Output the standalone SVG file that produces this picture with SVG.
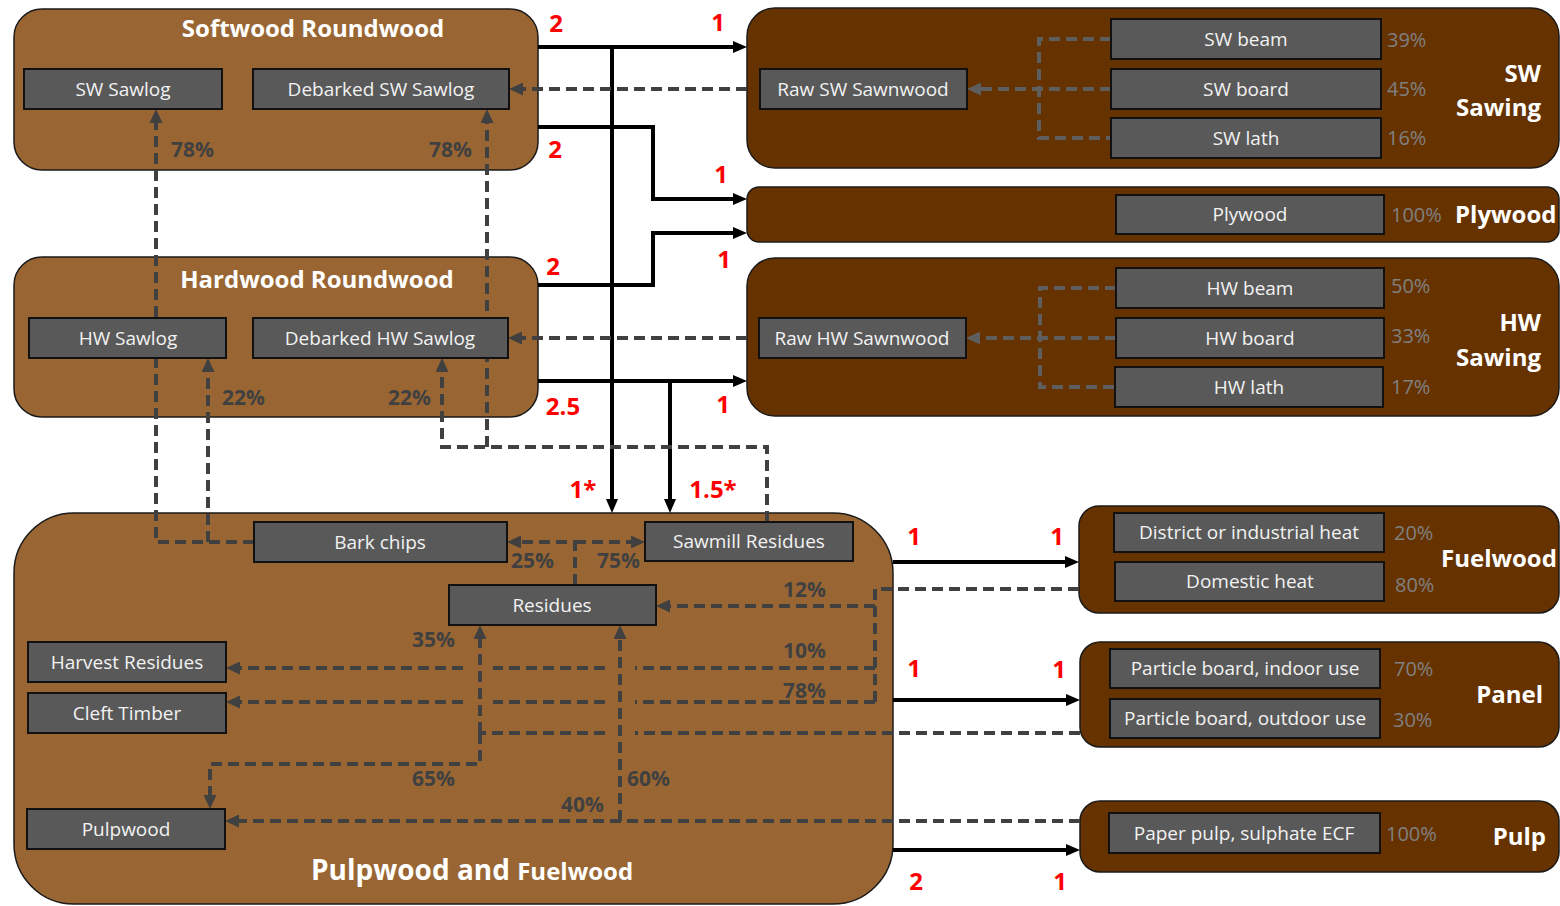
<svg xmlns="http://www.w3.org/2000/svg" width="1560" height="906" viewBox="0 0 1560 906">
<style>
.cl{fill:#996633;stroke:#1a1a1a;stroke-width:1.5}
.cd{fill:#663300;stroke:#1a1a1a;stroke-width:1.5}
.bx{fill:#595959;stroke:#111;stroke-width:2}
text{font-family:"Open Sans","Liberation Sans",sans-serif}
.bt{font-size:19px;fill:#f2f2f2;text-anchor:middle}
.tt{font-size:24px;font-weight:bold;fill:#fff;text-anchor:middle}
.hd{font-size:24px;font-weight:bold;fill:#fff}
.rp{font-size:20px;fill:#808080}
.pc{font-size:21px;font-weight:bold;fill:#404040}
.rd{font-size:24px;font-weight:bold;fill:#ff0000;text-anchor:middle}
.sl{fill:none;stroke:#000;stroke-width:4}
.dl{fill:none;stroke:#404040;stroke-width:4;stroke-dasharray:11 6}
.dg{fill:none;stroke:#5e5e5e;stroke-width:4;stroke-dasharray:11 6}
</style>
<defs>
<marker id="ab" viewBox="0 0 14 12" refX="4" refY="6" markerWidth="14" markerHeight="12" markerUnits="userSpaceOnUse" orient="auto"><path d="M0,0 L14,6 L0,12 z" fill="#000"/></marker>
<marker id="ad" viewBox="0 0 14 13" refX="4" refY="6.5" markerWidth="14" markerHeight="13" markerUnits="userSpaceOnUse" orient="auto"><path d="M0,0 L14,6.5 L0,13 z" fill="#404040"/></marker>
<marker id="ag" viewBox="0 0 14 13" refX="4" refY="6.5" markerWidth="14" markerHeight="13" markerUnits="userSpaceOnUse" orient="auto"><path d="M0,0 L14,6.5 L0,13 z" fill="#5e5e5e"/></marker>
</defs>
<rect width="1560" height="906" fill="#fff"/>

<!-- containers -->
<g id="softwood-roundwood">
<rect class="cl" x="14" y="9" width="524" height="161" rx="28"/>
<text class="tt" x="313" y="37">Softwood Roundwood</text>
</g>
<g id="hardwood-roundwood">
<rect class="cl" x="14" y="257" width="524" height="160" rx="28"/>
<text class="tt" x="317" y="288">Hardwood Roundwood</text>
</g>
<g id="pulpwood-fuelwood">
<rect class="cl" x="14" y="513" width="879" height="391" rx="60"/>
<text x="311" y="880" style="font-size:28px;font-weight:bold;fill:#fff">Pulpwood and <tspan style="font-size:24px">Fuelwood</tspan></text>
</g>
<g id="sw-sawing">
<rect class="cd" x="747" y="8" width="812" height="160" rx="28"/>
<text class="hd" x="1541" y="82" text-anchor="end">SW</text>
<text class="hd" x="1541" y="116" text-anchor="end">Sawing</text>
<text class="rp" x="1387" y="47">39%</text>
<text class="rp" x="1387" y="96">45%</text>
<text class="rp" x="1387" y="145">16%</text>
</g>
<g id="plywood">
<rect class="cd" x="747" y="187" width="812" height="55" rx="12"/>
<text class="hd" x="1455" y="223">Plywood</text>
<text class="rp" x="1391" y="222">100%</text>
</g>
<g id="hw-sawing">
<rect class="cd" x="747" y="258" width="812" height="158" rx="28"/>
<text class="hd" x="1541" y="331" text-anchor="end">HW</text>
<text class="hd" x="1541" y="366" text-anchor="end">Sawing</text>
<text class="rp" x="1391" y="293">50%</text>
<text class="rp" x="1391" y="343">33%</text>
<text class="rp" x="1391" y="394">17%</text>
</g>
<g id="fuelwood">
<rect class="cd" x="1079" y="506" width="480" height="107" rx="20"/>
<text class="hd" x="1441" y="567">Fuelwood</text>
<text class="rp" x="1394" y="540">20%</text>
<text class="rp" x="1395" y="592">80%</text>
</g>
<g id="panel">
<rect class="cd" x="1080" y="642" width="479" height="105" rx="20"/>
<text class="hd" x="1543" y="703" text-anchor="end">Panel</text>
<text class="rp" x="1394" y="676">70%</text>
<text class="rp" x="1393" y="727">30%</text>
</g>
<g id="pulp">
<rect class="cd" x="1080" y="801" width="479" height="71" rx="20"/>
<text class="hd" x="1546" y="845" text-anchor="end">Pulp</text>
<text class="rp" x="1386" y="841">100%</text>
</g>

<!-- connectors -->
<g id="connectors">
<path class="sl" d="M538,47 H737" marker-end="url(#ab)"/>
<path class="sl" d="M538,127 H653 V199 H737" marker-end="url(#ab)"/>
<path class="sl" d="M538,285 H653 V233 H737" marker-end="url(#ab)"/>
<path class="sl" d="M538,381 H737" marker-end="url(#ab)"/>
<path class="sl" d="M612,47 V503" marker-end="url(#ab)"/>
<path class="sl" d="M670,381 V503" marker-end="url(#ab)"/>
<path class="sl" d="M893,562 H1069" marker-end="url(#ab)"/>
<path class="sl" d="M893,700 H1070" marker-end="url(#ab)"/>
<path class="sl" d="M893,850 H1070" marker-end="url(#ab)"/>

<path class="dl" d="M747,89 H519" marker-end="url(#ad)"/>
<path class="dl" d="M747,338 H518" marker-end="url(#ad)"/>
<path class="dl" d="M254,542 H156 V119" marker-end="url(#ad)"/>
<path class="dl" d="M208,542 V368" marker-end="url(#ad)"/>
<path class="dl" d="M767,522 V447 H442 V368" marker-end="url(#ad)"/>
<path class="dl" d="M487,447 V119" marker-end="url(#ad)"/>
<path class="dl" d="M575,585 V542 H517" marker-end="url(#ad)"/>
<path class="dl" d="M575,542 H635" marker-end="url(#ad)"/>
<path class="dl" d="M1079,589 H875 V702"/>
<path class="dl" d="M875,606 H666" marker-end="url(#ad)"/>
<path class="dl" d="M875,668 H635 M605,668 H493"/>
<path class="dl" d="M463,668 H236" marker-end="url(#ad)"/>
<path class="dl" d="M875,702 H635 M605,702 H493"/>
<path class="dl" d="M463,702 H236" marker-end="url(#ad)"/>
<path class="dl" d="M1080,733 H635 M605,733 H480"/>
<path class="dl" d="M480,733 V635" marker-end="url(#ad)"/>
<path class="dl" d="M480,733 V764 H210 V799" marker-end="url(#ad)"/>
<path class="dl" d="M1080,821 H235" marker-end="url(#ad)"/>
<path class="dl" d="M620,821 V635" marker-end="url(#ad)"/>

<path class="dg" d="M1111,39 H1039 V138 H1111"/>
<path class="dg" d="M1111,89 H977" marker-end="url(#ag)"/>
<path class="dg" d="M1116,288 H1040 V387 H1115"/>
<path class="dg" d="M1116,338 H976" marker-end="url(#ag)"/>

<text class="rd" x="556" y="32">2</text>
<text class="rd" x="718" y="31">1</text>
<text class="rd" x="555" y="158">2</text>
<text class="rd" x="721" y="183">1</text>
<text class="rd" x="553" y="275">2</text>
<text class="rd" x="724" y="268">1</text>
<text class="rd" x="563" y="415">2.5</text>
<text class="rd" x="723" y="413">1</text>
<text class="rd" x="583" y="498">1*</text>
<text class="rd" x="713" y="498">1.5*</text>
<text class="rd" x="914" y="545">1</text>
<text class="rd" x="1057" y="545">1</text>
<text class="rd" x="914" y="677">1</text>
<text class="rd" x="1059" y="678">1</text>
<text class="rd" x="916" y="890">2</text>
<text class="rd" x="1060" y="890">1</text>

<text class="pc" x="171" y="157">78%</text>
<text class="pc" x="429" y="157">78%</text>
<text class="pc" x="222" y="405">22%</text>
<text class="pc" x="388" y="405">22%</text>
<text class="pc" x="511" y="568">25%</text>
<text class="pc" x="597" y="568">75%</text>
<text class="pc" x="783" y="597">12%</text>
<text class="pc" x="783" y="658">10%</text>
<text class="pc" x="783" y="698">78%</text>
<text class="pc" x="412" y="647">35%</text>
<text class="pc" x="412" y="786">65%</text>
<text class="pc" x="627" y="786">60%</text>
<text class="pc" x="561" y="812">40%</text>
</g>

<!-- inner nodes -->
<g id="sw-sawlog"><rect class="bx" x="24" y="69" width="198" height="40"/><text class="bt" x="123" y="96">SW Sawlog</text></g>
<g id="debarked-sw-sawlog"><rect class="bx" x="253" y="69" width="256" height="40"/><text class="bt" x="381" y="96">Debarked SW Sawlog</text></g>
<g id="hw-sawlog"><rect class="bx" x="29" y="318" width="197" height="40"/><text class="bt" x="128" y="345">HW Sawlog</text></g>
<g id="debarked-hw-sawlog"><rect class="bx" x="253" y="318" width="255" height="40"/><text class="bt" x="380" y="345">Debarked HW Sawlog</text></g>
<g id="raw-sw-sawnwood"><rect class="bx" x="760" y="69" width="207" height="40"/><text class="bt" x="863" y="96">Raw SW Sawnwood</text></g>
<g id="sw-beam"><rect class="bx" x="1111" y="19" width="270" height="40"/><text class="bt" x="1246" y="46">SW beam</text></g>
<g id="sw-board"><rect class="bx" x="1111" y="69" width="270" height="40"/><text class="bt" x="1246" y="96">SW board</text></g>
<g id="sw-lath"><rect class="bx" x="1111" y="118" width="270" height="40"/><text class="bt" x="1246" y="145">SW lath</text></g>
<g id="plywood-product"><rect class="bx" x="1116" y="195" width="268" height="39"/><text class="bt" x="1250" y="221">Plywood</text></g>
<g id="raw-hw-sawnwood"><rect class="bx" x="759" y="318" width="207" height="40"/><text class="bt" x="862" y="345">Raw HW Sawnwood</text></g>
<g id="hw-beam"><rect class="bx" x="1116" y="268" width="268" height="40"/><text class="bt" x="1250" y="295">HW beam</text></g>
<g id="hw-board"><rect class="bx" x="1116" y="318" width="268" height="40"/><text class="bt" x="1250" y="345">HW board</text></g>
<g id="hw-lath"><rect class="bx" x="1115" y="367" width="268" height="40"/><text class="bt" x="1249" y="394">HW lath</text></g>
<g id="bark-chips"><rect class="bx" x="254" y="522" width="253" height="40"/><text class="bt" x="380" y="549">Bark chips</text></g>
<g id="sawmill-residues"><rect class="bx" x="645" y="522" width="208" height="39"/><text class="bt" x="749" y="548">Sawmill Residues</text></g>
<g id="residues"><rect class="bx" x="449" y="585" width="207" height="40"/><text class="bt" x="552" y="612">Residues</text></g>
<g id="harvest-residues"><rect class="bx" x="28" y="642" width="198" height="40"/><text class="bt" x="127" y="669">Harvest Residues</text></g>
<g id="cleft-timber"><rect class="bx" x="28" y="693" width="198" height="40"/><text class="bt" x="127" y="720">Cleft Timber</text></g>
<g id="pulpwood"><rect class="bx" x="27" y="809" width="198" height="40"/><text class="bt" x="126" y="836">Pulpwood</text></g>
<g id="district-heat"><rect class="bx" x="1114" y="513" width="270" height="39"/><text class="bt" x="1249" y="539">District or industrial heat</text></g>
<g id="domestic-heat"><rect class="bx" x="1115" y="562" width="269" height="39"/><text class="bt" x="1250" y="588">Domestic heat</text></g>
<g id="particle-indoor"><rect class="bx" x="1110" y="649" width="270" height="39"/><text class="bt" x="1245" y="675">Particle board, indoor use</text></g>
<g id="particle-outdoor"><rect class="bx" x="1110" y="699" width="270" height="39"/><text class="bt" x="1245" y="725">Particle board, outdoor use</text></g>
<g id="paper-pulp"><rect class="bx" x="1109" y="813" width="271" height="40"/><text class="bt" x="1244" y="840">Paper pulp, sulphate ECF</text></g>
</svg>
